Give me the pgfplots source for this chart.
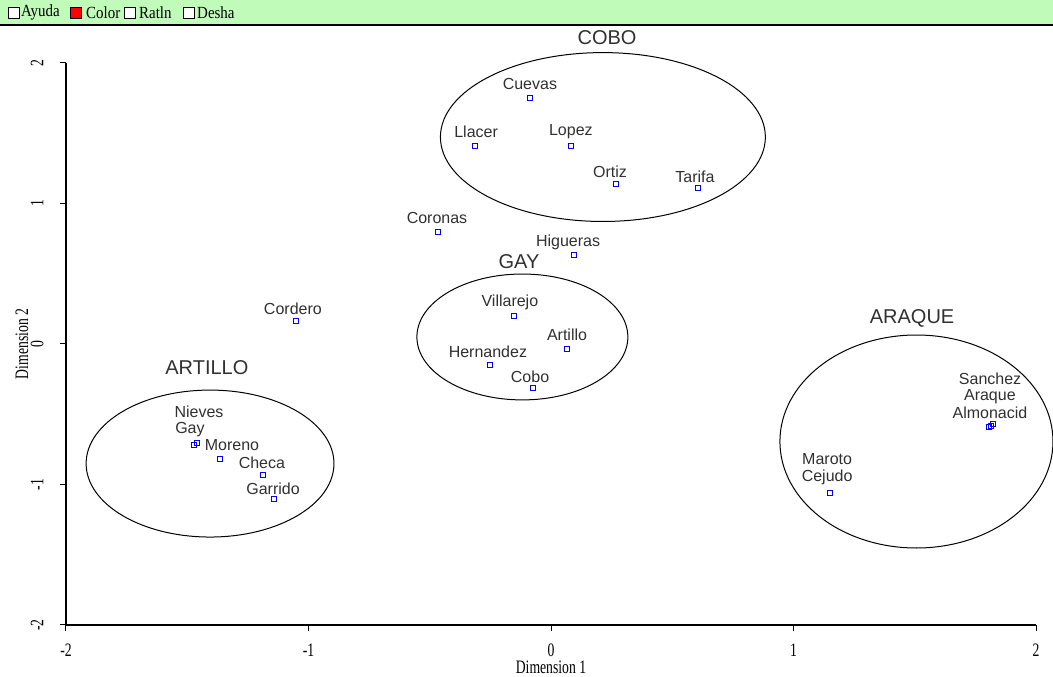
\documentclass[border=0pt]{standalone}
\usepackage{fontspec}
\setmainfont{Liberation Serif}
\newfontfamily\arial{Liberation Sans}
\newfontfamily\narrow[FakeStretch=0.72]{Liberation Serif}
\newfontfamily\barfont[FakeStretch=0.88]{Liberation Serif}
\usepackage{pgfplots}
\usepackage{pgfplotstable}
\pgfplotsset{compat=1.18}
\definecolor{barcol}{HTML}{C1FBB9}
\definecolor{labcol}{HTML}{303030}

% x y label, then label offset in pt
\pgfplotstableread{
x      y      lab        dx  dy
-0.087  1.751 Cuevas      0  14
-0.313  1.409 Llacer      1  14
 0.082  1.409 Lopez       0  14
 0.268  1.139 Ortiz      -6  12
 0.606  1.110 Tarifa     -3  11
-0.466  0.797 Coronas    -1  14
 0.095  0.633 Higueras   -6  13
-1.052  0.164 Cordero    -3  12
-0.153  0.199 Villarejo  -4  14
 0.066 -0.036 Artillo     0  14
-0.252 -0.149 Hernandez  -2  13
-0.074 -0.313 Cobo       -3  11
-1.472 -0.719 Nieves      5  33
-1.460 -0.705 Gay        -7  13
-1.365 -0.819 Moreno     12  14
-1.188 -0.932 Checa      -1  12
-1.142 -1.103 Garrido    -1  10
 1.823 -0.569 Sanchez    -3  45
 1.814 -0.584 Araque     -1  29
 1.806 -0.591 Almonacid   1  14
 1.151 -1.060 Maroto     -3  34
 1.151 -1.060 Cejudo     -3  16
}\people

\begin{document}
\begin{tikzpicture}
\useasboundingbox (-66pt,-52pt) rectangle (987pt,625pt);
\begin{axis}[
  scale only axis, width=970pt, height=562pt,
  xmin=-2, xmax=2, ymin=-2, ymax=2,
  axis x line*=bottom, axis y line*=left,
  axis line style={line width=1.2pt},
  xtick={-2,-1,0,1,2}, ytick={-2,-1,0,1,2},
  tick align=outside, major tick length=6pt,
  tick style={line width=1pt, black},
  /pgf/number format/assume math mode=true,
  tick label style={font=\narrow\fontsize{19}{19}\selectfont},
  xticklabel style={yshift=-9pt},
  yticklabel style={xshift=-13pt, rotate=90, anchor=south},
  xlabel={Dimension 1}, ylabel={Dimension 2},
  every axis x label/.style={at={(axis description cs:0.5,0)}, anchor=center, yshift=-42pt, font=\narrow\fontsize{19}{19}\selectfont},
  every axis y label/.style={at={(axis description cs:0,0.5)}, anchor=center, xshift=-44pt, rotate=90, font=\narrow\fontsize{19}{19}\selectfont},
  clip=false,
]
\addplot[only marks, mark=square, mark size=2.6pt,
  mark options={blue, line width=1pt},
  point meta=explicit symbolic,
  visualization depends on={\thisrow{dx} \as \labdx},
  visualization depends on={\thisrow{dy} \as \labdy},
  nodes near coords,
  nodes near coords style={anchor=center, xshift=\labdx pt, yshift=\labdy pt,
    font=\arial\fontsize{16}{16}\selectfont, text=labcol, inner sep=0pt},
] table[x=x, y=y, meta=lab] {\people};

\draw[line width=1pt] (axis cs:0.214,1.473) ellipse [x radius=0.670, y radius=0.601];
\draw[line width=1pt] (axis cs:-0.118,0.050) ellipse [x radius=0.435, y radius=0.448];
\draw[line width=1pt] (axis cs:-1.406,-0.851) ellipse [x radius=0.511, y radius=0.523];
\draw[line width=1pt] (axis cs:1.507,-0.694) ellipse [x radius=0.563, y radius=0.758];

\begin{scope}[every node/.style={font=\arial\fontsize{20}{20}\selectfont, text=labcol, inner sep=0pt}]
\node at (axis cs:0.231,2.178) {COBO};
\node at (axis cs:-0.132,0.584) {GAY};
\node at (axis cs:-1.419,-0.171) {ARTILLO};
\node at (axis cs:1.489,0.185) {ARAQUE};
\end{scope}
\end{axis}

% toolbar strip
\fill[barcol] (-66pt,600pt) rectangle (987pt,625pt);
\draw[line width=1.4pt] (-66pt,600pt) -- (987pt,600pt);
\begin{scope}[every node/.style={font=\barfont\fontsize{17}{17}\selectfont, anchor=west, inner sep=0pt}]
\filldraw[fill=white, draw=black, line width=0.8pt] (-58pt,607pt) rectangle (-47pt,618pt);
\node at (-45pt,612.5pt) {Ayuda};
\filldraw[fill=red, draw=black, line width=0.8pt] (4pt,607pt) rectangle (15pt,618pt);
\node at (20pt,612.5pt) {Color};
\filldraw[fill=white, draw=black, line width=0.8pt] (58pt,607pt) rectangle (69pt,618pt);
\node at (73pt,612.5pt) {Ratln};
\filldraw[fill=white, draw=black, line width=0.8pt] (117pt,607pt) rectangle (128pt,618pt);
\node at (131pt,612.5pt) {Desha};
\end{scope}
\end{tikzpicture}
\end{document}
